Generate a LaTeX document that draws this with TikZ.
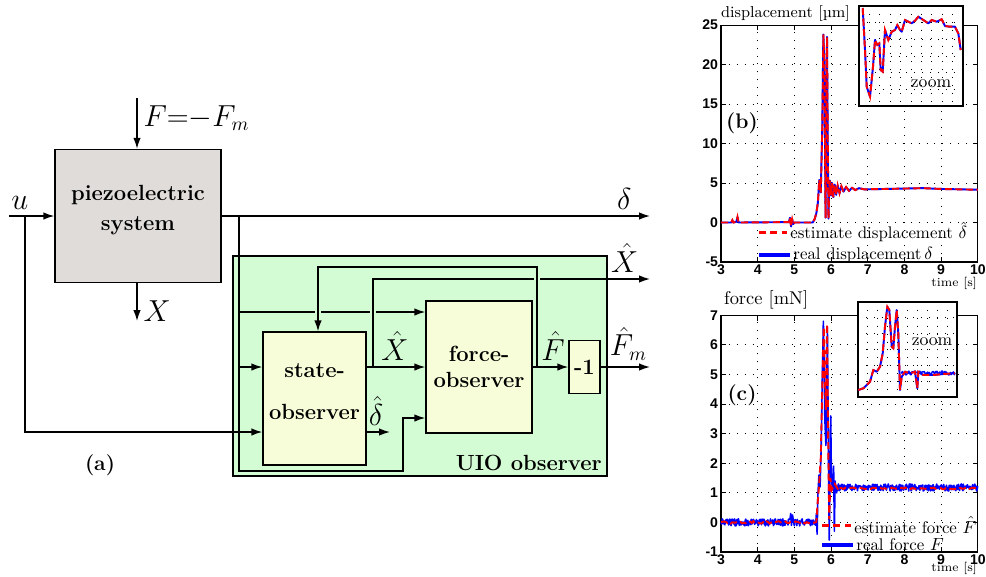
\documentclass[tikz,border=0pt]{standalone}
\usepackage{amsmath,amssymb}
\usepackage{fontspec}
\newfontfamily\axisfont{Liberation Sans}
\usetikzlibrary{arrows.meta,positioning,calc}
\definecolor{piezogray}{RGB}{224,220,218}
\definecolor{uiogreen}{RGB}{212,252,212}
\definecolor{obsyellow}{RGB}{246,253,216}
\newcommand{\dispdata}{(3,0) -- (3.28,0) -- (3.31,0.3) -- (3.34,0) -- (3.42,0.1) -- (3.45,0.7) -- (3.48,0)
  -- (4.85,0.05) -- (4.88,0.6) -- (4.91,-0.5) -- (4.94,0.4) -- (4.97,-0.2) -- (5.0,0) -- (5.5,0)
  -- (5.55,0.4) -- (5.6,1.2) -- (5.64,2.5) -- (5.68,5.4) -- (5.72,3.8) -- (5.76,12) -- (5.79,23.8)
  -- (5.82,20) -- (5.85,0.6) -- (5.87,12) -- (5.89,23.5) -- (5.91,10) -- (5.93,0.5) -- (5.95,4.5)
  -- (5.97,5.3) -- (6.0,3.4) -- (6.03,5) -- (6.06,3.2) -- (6.1,4.8) -- (6.14,3.5) -- (6.18,4.7)
  -- (6.23,3.7) -- (6.28,4.6) -- (6.34,3.9) -- (6.41,4.5) -- (6.49,4.0) -- (6.57,4.4) -- (6.66,4.1)
  -- (6.76,4.35) -- (6.9,4.2) -- (7.5,4.25) -- (8,4.3) -- (8.5,4.35) -- (9,4.25) -- (9.5,4.2) -- (10,4.15)}
\newcommand{\dispzoom}{(862.7,8) -- (865,50) -- (866.7,86.7) -- (870,96.7) -- (873,66.7) -- (875,40)
  -- (877.3,45) -- (879.3,43.3) -- (880.7,70) -- (882.7,71.7) -- (885,30) -- (888.3,40) -- (891.7,31.7)
  -- (895,30) -- (897.3,25) -- (900,30) -- (901.7,31.7) -- (905,20) -- (908.3,21.7) -- (911.7,23.3)
  -- (915,20.7) -- (918.3,16.7) -- (923.3,20) -- (928.3,23.3) -- (931.7,20) -- (936.7,21.7)
  -- (941.7,19.3) -- (945,26) -- (950,26.7) -- (955,26.7) -- (958.3,33.3) -- (960.7,50)}
\newcommand{\forcezoom}{(858.3,390) -- (863.3,388.3) -- (866.7,385) -- (870,381.7) -- (873.3,370)
  -- (876.7,371.7) -- (880,366.7) -- (882.7,353.3) -- (885,326.7) -- (887.3,306.7) -- (889.3,310)
  -- (891.7,346.7) -- (893.3,348.3) -- (895,326.7) -- (896.7,310) -- (898.3,333.3) -- (899.3,366.7)
  -- (900,390) -- (901.7,376.7) -- (905,371.7) -- (910,373.3) -- (915,371.7) -- (917.3,388.3)
  -- (918.3,371.7) -- (923.3,375) -- (933.3,375) -- (943.3,374) -- (955,373.3)}

\begin{document}
\begin{tikzpicture}[x=0.02cm, y=-0.02cm,
  block/.style={draw, thick, align=center, font=\fontsize{12.5}{15}\selectfont\bfseries, inner sep=0pt},
  flow/.style={-{Latex[length=2.2mm,width=1.5mm]}, thick},
  wire/.style={thick},
  sig/.style={font=\fontsize{16}{19}\selectfont},
  ticklabel/.style={font=\axisfont\bfseries\fontsize{8}{9}\selectfont, inner sep=1.5pt},
  gridline/.style={dash pattern=on 0.5pt off 4pt, line width=0.5pt},
  real/.style={blue, line width=1.1pt, line join=round},
  estim/.style={red, dash pattern=on 4pt off 2pt, line width=1.1pt},
  legtext/.style={font=\fontsize{9.6}{11}\selectfont, text=black, inner sep=1pt},
  axlabel/.style={anchor=west, inner sep=1pt}
]
\pgfmathsetseed{7}
\useasboundingbox (0,0) rectangle (986,576);

\node[draw, thick, fill=uiogreen, minimum width=7.48cm, minimum height=4.4cm] (uio) at (420,366) {};
\node[block, fill=piezogray, minimum width=3.32cm, minimum height=2.66cm] (piezo) at (138,216)
  {piezoelectric\\[2pt] system\\[-6pt]\mbox{}};
\node[block, fill=obsyellow, minimum width=2.06cm, minimum height=2.66cm] (state) at (314.5,398.5)
  {state-\\[9pt]observer\\[-7pt]\mbox{}};
\node[block, fill=obsyellow, minimum width=2.12cm, minimum height=2.64cm] (force) at (479,367)
  {force-\\observer};
\node[block, fill=obsyellow, minimum width=0.62cm, minimum height=1.06cm] (neg) at (584.5,367) {-1};
\node[block, draw=none, anchor=south east, inner sep=3pt] (uiolabel) at (uio.south east) {UIO observer};
\node[font=\large\bfseries] (panela) at (100,465) {(a)};

\coordinate (fin) at (137,98);
\coordinate (uin) at (9,216);
\coordinate (ubr) at (25,216);
\coordinate (dbr) at (239,216);
\coordinate (dout) at (650,216);
\coordinate (xout) at (137,321);
\coordinate (lp) at (403,471);
\coordinate (xbr) at (373,367);
\coordinate (xhout) at (650,279);
\coordinate (fbr) at (537,367);
\coordinate (fdn) at (318,267);
\coordinate (fmout) at (650,367);
\coordinate (dhat) at (390,432);

\draw[flow] (fin) -- (fin |- piezo.north) node[pos=.4, right, sig] {$F{=}{-}F_m$};
\draw[flow] (uin) -- (piezo.west) node[pos=.24, above, sig] {$u$};
\draw[flow] (ubr) |- (state.west |- dhat);
\draw[flow] (piezo.east) -- (dout) node[pos=.94, above, sig] {$\delta$};
\draw[flow] (piezo.south -| fin) -- (xout) node[pos=.75, right, sig] {$X$};
\draw[flow] (dbr) |- (lp) |- (force.west |- 0,418);
\draw[flow] (dbr |- 0,367) -- (state.west |- 0,367);
\draw[wire] (dbr |- 0,312) -- ($(fdn |- 0,312)+(-3,0)$);
\draw[wire] ($(fdn |- 0,312)+(3,0)$) -- ($(xbr |- 0,312)+(-3,0)$);
\draw[flow] ($(xbr |- 0,312)+(3,0)$) -- (force.west |- 0,312);
\draw[flow] (state.east |- xbr) -- (force.west |- xbr) node[pos=.48, above, sig] {$\hat X$};
\draw[wire] (xbr) |- ($(fbr |- xhout)+(-3,0)$);
\draw[flow] ($(fbr |- xhout)+(3,0)$) -- (xhout) node[pos=.77, above, sig] {$\hat X$};
\draw[flow] (force.east) -- (neg.west) node[pos=.57, above, sig] {$\hat F$};
\draw[flow] (fbr) |- (fdn) -- (fdn |- state.north);
\draw[flow] (neg.east) -- (fmout) node[pos=.56, above, sig] {$\hat F_m$};
\draw[flow] (state.east |- dhat) -- (dhat) node[pos=.4, above, sig] {$\hat\delta$};

% displacement plot
\begin{scope}[shift={(610.9,222.5)}, x=0.734cm, y=0.158cm]
  \foreach \t in {4,...,9} \draw[gridline] (\t,-5) -- (\t,25);
  \foreach \v in {0,5,...,20} \draw[gridline] (3,\v) -- (10,\v);
  \foreach \t in {3,...,10} {
    \draw (\t,-5) -- ++(0pt,3pt) (\t,25) -- ++(0pt,-3pt);
    \node[ticklabel, below] (bx\t) at (\t,-5) {\t};
  }
  \foreach \v in {-5,0,...,25} {
    \draw (3,\v) -- ++(3pt,0pt) (10,\v) -- ++(-3pt,0pt);
    \node[ticklabel, left] (by\v) at (3,\v) {\v};
  }
  \draw[line width=0.6pt] (3,-5) rectangle (10,25);
  \draw[real] \dispdata;
  \draw[estim] \dispdata;
\end{scope}
\node[axlabel, font=\small] (bylabel) at (719,14) {displacement [µm]};
\node[font=\scriptsize, anchor=east, inner sep=1pt] (bxlabel) at (979,283) {time [s]};
\node[font=\large\bfseries] (panelb) at (742,123) {(b)};
\draw[estim, line width=1.7pt, dash pattern=on 4pt off 2.5pt] (759,232) -- (787,232)
  node[right, legtext] (legb1) {estimate displacement $\hat\delta$};
\draw[blue, line width=1.9pt] (759,255) -- (790,255)
  node[right, legtext] (legb2) {real displacement$\,\delta$};
\draw[fill=white, line width=0.6pt] (859,6) rectangle (963,106);
\foreach \k in {1,...,9} \draw[gridline] ({859+10.4*\k},6) -- ({859+10.4*\k},106);
\foreach \k in {1,...,5} \draw[gridline] (859,{6+16.7*\k}) -- (963,{6+16.7*\k});
\draw[real] \dispzoom;
\draw[estim] \dispzoom;
\node[font=\normalsize, inner sep=1pt] (zoomb) at (931,84) {zoom};

% force plot
\begin{scope}[shift={(610.9,522.4)}, x=0.734cm, y=0.592cm]
  \foreach \t in {4,...,9} \draw[gridline] (\t,-1) -- (\t,7);
  \foreach \v in {0,...,6} \draw[gridline] (3,\v) -- (10,\v);
  \foreach \t in {3,...,10} {
    \draw (\t,-1) -- ++(0pt,3pt) (\t,7) -- ++(0pt,-3pt);
    \node[ticklabel, below] (cx\t) at (\t,-1) {\t};
  }
  \foreach \v in {-1,0,...,7} {
    \draw (3,\v) -- ++(3pt,0pt) (10,\v) -- ++(-3pt,0pt);
    \node[ticklabel, left] (cy\v) at (3,\v) {\v};
  }
  \draw[line width=0.6pt] (3,-1) rectangle (10,7);
  \draw[real, line width=0.9pt] plot[domain=3:4.85, samples=160] (\x,{0.12*rand})
    -- (4.88,0.1) -- (4.9,0.3) -- (4.92,-0.1) -- (4.95,0.25) -- (4.98,0)
    -- plot[domain=5:5.55, samples=50] (\x,{0.12*rand})
    -- (5.58,-0.1) -- (5.6,0.3) -- (5.62,-0.4) -- (5.64,0.9) -- (5.67,1.6) -- (5.7,1.2) -- (5.73,2.5)
    -- (5.76,4.8) -- (5.79,6.8) -- (5.81,5.5) -- (5.83,3.5) -- (5.86,2.6) -- (5.88,4.5) -- (5.9,6.6)
    -- (5.93,2) -- (5.95,-0.6) -- (5.97,1.5) -- (5.99,3.6) -- (6.01,1.5) -- (6.04,1.1) -- (6.07,1.9)
    -- (6.09,-0.3) -- (6.11,1.4) -- (6.15,1.0) -- (6.2,1.3)
    -- plot[domain=6.2:10, samples=300] (\x,{1.18+0.12*rand});
  \draw[estim] plot[domain=3:5.6, samples=60] (\x,{0.04*rand})
    -- (5.63,0.6) -- (5.67,1.2) -- (5.72,2.2) -- (5.76,4.5) -- (5.8,6.6) -- (5.83,5) -- (5.86,3.8)
    -- (5.89,6.7) -- (5.92,3) -- (5.95,0.1) -- (5.98,1.5) -- (6.02,1.1) -- (6.1,1.3) -- (6.2,1.1)
    -- plot[domain=6.2:10, samples=80] (\x,{1.15+0.03*rand});
\end{scope}
\node[axlabel, font=\fontsize{10.5}{12}\selectfont] (cylabel) at (722,300) {force [mN]};
\node[font=\scriptsize, anchor=east, inner sep=1pt] (cxlabel) at (979,568) {time [s]};
\node[font=\large\bfseries] (panelc) at (742,395) {(c)};
\draw[estim, line width=1.7pt, dash pattern=on 4pt off 2.5pt] (822,525) -- (851,525)
  node[right, legtext] (legc1) {estimate force $\hat F$};
\draw[blue, line width=1.9pt] (822,545) -- (853,545)
  node[right, legtext] (legc2) {real force $F$};
\draw[fill=white, line width=0.6pt] (858,302) rectangle (957,397);
\foreach \k in {1,...,9} \draw[gridline] ({858+9.9*\k},302) -- ({858+9.9*\k},397);
\foreach \k in {1,...,5} \draw[gridline] (858,{302+15.8*\k}) -- (957,{302+15.8*\k});
\draw[real] \forcezoom;
\draw[real, line width=0.8pt] plot[domain=901:955, samples=70] (\x,{373+2*rand});
\draw[estim] \forcezoom;
\node[font=\normalsize, inner sep=1pt] (zoomc) at (932,342) {zoom};
\end{tikzpicture}
\end{document}
